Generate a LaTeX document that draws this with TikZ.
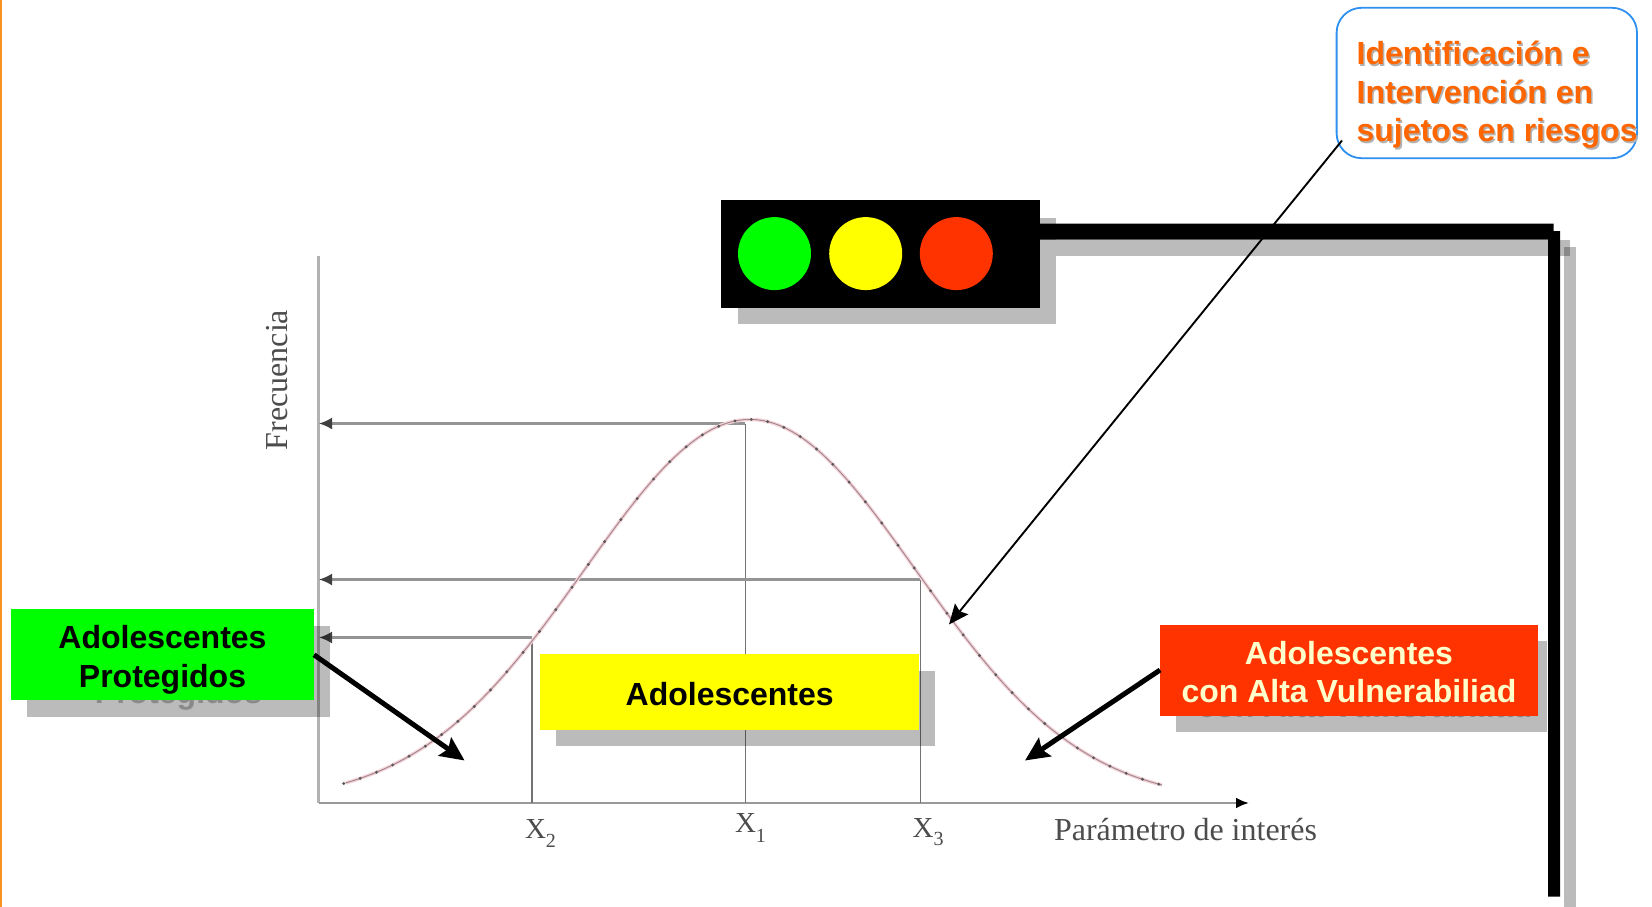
\documentclass[tikz,border=0pt]{standalone}
\usepackage{fontspec}
\setmainfont{Liberation Serif}
\newfontfamily\arialfam{Liberation Sans}
\usetikzlibrary{arrows.meta}
\definecolor{cgreen}{HTML}{00FF00}
\definecolor{cyellow}{HTML}{FFFF00}
\definecolor{cred}{HTML}{FF3300}
\definecolor{corange}{HTML}{FF6600}
\definecolor{cblue}{HTML}{2E90F0}
\definecolor{cstrip}{HTML}{F7931E}
\definecolor{cpale}{HTML}{FFFFCC}
\definecolor{cpink}{HTML}{F8D3D9}
\definecolor{cgraph}{HTML}{A08C92}
\tikzset{
  declare function={gy(\x)=419.5+383*(1-exp(0-((\x-750)/234.5)^2));},
  shadowbox/.style={fill=black,fill opacity=.267,draw=none},
  flatbox/.style={draw=none,inner sep=0pt,outer sep=0pt},
  boldtxt/.style={inner sep=0pt,outer sep=0pt,font=\arialfam\bfseries\fontsize{32pt}{38.5pt}\selectfont},
  picttxt/.style={inner sep=0pt,outer sep=0pt,text=black!70,font=\fontsize{32pt}{36pt}\selectfont},
  xlabel/.style={inner sep=0pt,outer sep=0pt,anchor=base west,text=black!70,font=\fontsize{29pt}{32pt}\selectfont},
  axisline/.style={draw=black!40,line width=2.6pt},
  guide/.style={draw=black!42,line width=2.2pt},
  guidetip/.style={guide,-{Latex[length=13pt,width=12pt,black!75]}},
  stem/.style={draw=black!55,line width=1.6pt},
  fatarrow/.style={draw=black,line width=5pt,-{Stealth[length=24pt,width=22pt,inset=4pt]}},
  thinarrow/.style={draw=black,line width=1.9pt,-{Stealth[length=20pt,width=17pt,inset=3pt]}}
}
\newcommand{\sbs}[2]{\raisebox{#1}{\fontsize{20pt}{20pt}\selectfont #2}}
\begin{document}
\begin{tikzpicture}[x=1pt,y=-1pt]
\useasboundingbox (0,0) rectangle (1652,907);
\fill[white] (0,0) rectangle (1652,907);
\fill[cstrip] (0,0) rectangle (2.2,907);

% axes and guides of the bell curve
\coordinate (origin) at (318.6,803);
\coordinate (ytop) at (318.6,256);
\coordinate (xtip) at (1249,803);
\coordinate (p1) at (745.3,423.5);
\coordinate (p2) at (531.7,637.5);
\coordinate (p3) at (920.3,579.5);
\coordinate (t1) at (319,423.5);
\coordinate (t2) at (319,637.5);
\coordinate (t3) at (319,579.5);
\draw[draw=black!30,line width=3pt] (ytop) -- (origin);
\draw[axisline,-{Latex[length=13pt,width=11pt,black]}] (origin) -- (xtip);
\draw[stem] (p1) -- (p1|-origin);
\draw[stem] (p2) -- (p2|-origin);
\draw[stem] (p3) -- (p3|-origin);
\draw[guidetip] (p1) -- (t1);
\draw[guidetip] (p2) -- (t2);
\draw[guidetip] (p3) -- (t3);
\draw[cpink,line width=3.5pt] plot[domain=345.6:1162,samples=140] (\x,{gy(\x)});
\draw[cgraph,line width=1pt] plot[domain=345.6:1162,samples=140] (\x,{gy(\x)});
\foreach \i in {-24,...,26}{
  \pgfmathsetmacro\xx{735+16.3*\i}
  \fill[black!65] (\xx,{gy(\xx)}) circle (1.6pt);
}
\node[xlabel] (xtwo) at (525,838.5) {X\sbs{-9pt}{2}};
\node[xlabel] (xone) at (735,832.5) {X\sbs{-10pt}{1}};
\node[xlabel] (xthree) at (912.7,837.5) {X\sbs{-8pt}{3}};
\node[picttxt,anchor=base west] (param) at (1054,840.5) {Parámetro de interés};
\node[picttxt,anchor=base,rotate=90] (freq) at (287,380) {Frecuencia};

% shadows
\path[shadowbox] (738,217.5) rectangle (1056,323.5);
\path[shadowbox] (1056,239.5) rectangle (1569.5,256);
\path[shadowbox] (1564,247) rectangle (1576,907);
\path[shadowbox] (27,625.5) rectangle (330,716.5);
\path[shadowbox] (556,670.5) rectangle (935,746);
\path[shadowbox] (1176,640.5) rectangle (1547,731.5);
\node[boldtxt,anchor=base,text=black!46] (protshadow) at (178.5,703.5) {Protegidos};
\node[boldtxt,anchor=base,text=black!46] (vulnshadow) at (1365,717.5) {con Alta Vulnerabiliad};

% traffic light and bar
\fill[black] (1040,223.5) -- (1553.5,223.5) -- (1553.5,231) -- (1560,231) -- (1560,896.5) -- (1548,896.5) -- (1548,239.5) -- (1040,239.5) -- cycle;
\node[flatbox,fill=black,minimum width=319.4pt,minimum height=107.8pt] (traffic) at (880.7,254) {};
\node[flatbox,fill=cgreen,circle,minimum size=73pt] (lgreen) at (774.5,253.6) {};
\node[flatbox,fill=cyellow,circle,minimum size=73pt] (lyellow) at (865.7,253.6) {};
\node[flatbox,fill=cred,circle,minimum size=73pt] (lred) at (956.3,253.6) {};

% coloured boxes
\node[flatbox,fill=cgreen,minimum width=303pt,minimum height=90.7pt] (prot) at (162.5,654.8) {};
\node[flatbox,fill=cyellow,minimum width=379.3pt,minimum height=75.7pt] (adol) at (729.65,692.3) {};
\node[flatbox,fill=cred,minimum width=378pt,minimum height=91pt] (vuln) at (1349,670) {};
\node[boldtxt,align=center] (prottxt) at (162.5,660) {Adolescentes\\Protegidos};
\node[boldtxt] (adoltxt) at (729.7,694) {Adolescentes};
\node[boldtxt,align=center,text=cpale] (vulntxt) at (1349,672) {Adolescentes\\con Alta Vulnerabiliad};

% callout
\node[draw=cblue,line width=1.8pt,fill=white,rounded corners=25pt,inner sep=0pt,outer sep=0pt,minimum width=300.4pt,minimum height=150.4pt] (call) at (1486.8,83) {};
\node[boldtxt,align=left,anchor=west,text=black!30] (callshadow) at (1358.2,96.2) {Identificación e\\Intervención en\\sujetos en riesgos};
\node[boldtxt,align=left,anchor=west,text=corange] (calltxt) at (1356.6,94.7) {Identificación e\\Intervención en\\sujetos en riesgos};

% arrows
\coordinate (tipprot) at (464.6,760.5);
\coordinate (tipvuln) at (1025,760.5);
\coordinate (tipcurve) at (949,624.5);
\coordinate (callfoot) at (1342,140.5);
\draw[fatarrow] (prot.east) -- (tipprot);
\draw[fatarrow] (vuln.west) -- (tipvuln);
\draw[thinarrow] (callfoot) -- (tipcurve);
\end{tikzpicture}
\end{document}
